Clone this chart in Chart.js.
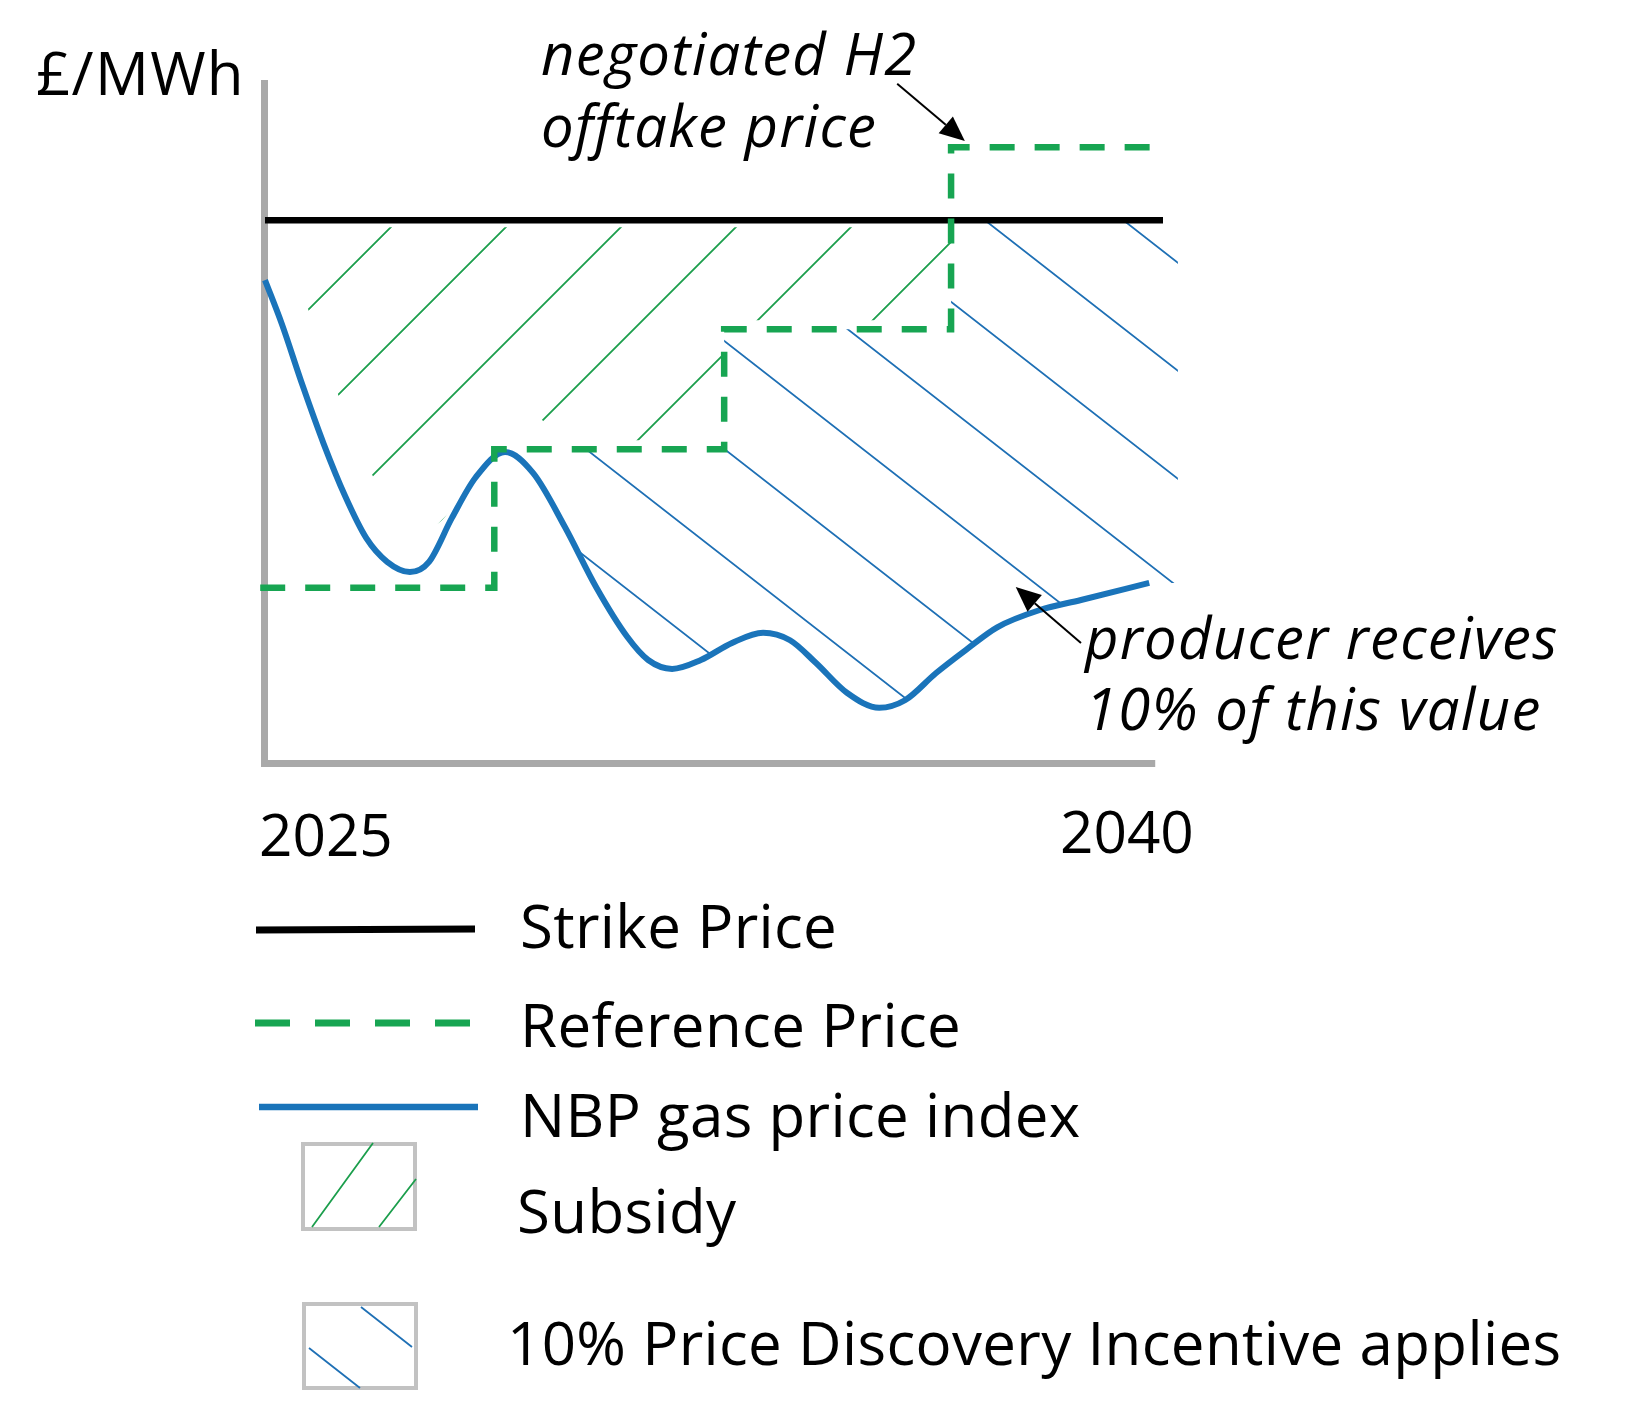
<!DOCTYPE html>
<html>
<head>
<meta charset="utf-8">
<script src="https://cdn.jsdelivr.net/npm/chart.js@4/dist/chart.umd.min.js"></script>
<style>
html,body{margin:0;padding:0;background:#ffffff;}
canvas{display:block;}
</style>
</head>
<body>
<canvas id="c" width="1638" height="1417"></canvas>
<script>
// ---------- data (schematic values) ----------
const tickLabels = ['2025', '2040'];
const yAxisTitle = '£/MWh';

const strikeX = [2025, 2040];
const strikeY = [79.6, 79.6];

const refX = [2024.92, 2028.83, 2032.67, 2036.46, 2039.98];
const refY = [25.7, 46.0, 63.6, 90.3, 90.3];

const nbpX = [2025.00, 2025.28, 2025.63, 2025.98, 2026.34, 2026.69, 2027.04, 2027.42,
              2027.74, 2028.12, 2028.52, 2029.01, 2029.48, 2030.01, 2030.53, 2031.05,
              2031.40, 2031.80, 2032.28, 2032.80, 2033.32, 2033.77, 2034.20, 2034.72,
              2035.26, 2035.69, 2036.21, 2036.71, 2037.23, 2037.93, 2038.63, 2039.77];
const nbpY = [70.8, 64.4, 55.3, 46.8, 39.1, 33.0, 29.5, 28.0,
              29.5, 35.9, 41.9, 45.6, 42.5, 34.6, 25.8, 18.5,
              15.1, 13.8, 15.1, 17.6, 19.1, 18.0, 14.7, 10.3,
              8.1, 9.2, 13.2, 16.6, 19.9, 22.4, 23.9, 26.4];

const legendLabels = ['Strike Price', 'Reference Price', 'NBP gas price index', 'Subsidy',
                      '10% Price Discovery Incentive applies'];
const noteH2 = ['negotiated H2', 'offtake price'];
const noteProducer = ['producer receives', '10% of this value'];
const arrowH2From = [2035.56, 99.6];
const arrowH2To = [2036.69, 91.2];
const arrowProdFrom = [2038.63, 17.6];
const arrowProdTo = [2037.54, 25.8];

// ---------- styles ----------
const BLACK = '#000000';
const GREEN = '#17a552';
const GREEN_HATCH = '#1b9e4c';
const BLUE = '#1a74ba';
const BLUE_HATCH = '#1f70b5';
const AXIS_GRAY = '#a9a9a9';
const BOX_GRAY = '#c2c2c2';
const FONT = '"Open Sans", "Noto Sans", "DejaVu Sans", sans-serif';
const hatchEndX = 2040.25;
const axisEndX = 2039.87;

const toPts = (xs, ys) => xs.map((x, i) => ({x: x, y: ys[i]}));

const hatchPlugin = {
  id: 'hatchAndAxes',
  beforeDatasetsDraw(chart) {
    const ctx = chart.ctx, a = chart.chartArea;
    const xs = chart.scales.x;
    const W = chart.width, H = chart.height;

    // axes
    ctx.save();
    ctx.strokeStyle = AXIS_GRAY;
    ctx.lineWidth = 7;
    ctx.lineCap = 'butt';
    ctx.beginPath();
    ctx.moveTo(a.left - 0.5, a.top - 1);
    ctx.lineTo(a.left - 0.5, a.bottom + 3.5);
    ctx.stroke();
    ctx.beginPath();
    ctx.moveTo(a.left - 4, a.bottom + 0.5);
    ctx.lineTo(xs.getPixelForValue(axisEndX), a.bottom + 0.5);
    ctx.stroke();
    ctx.restore();

    const S = chart.getDatasetMeta(0).dataset;
    const R = chart.getDatasetMeta(1).dataset;
    const N = chart.getDatasetMeta(2).dataset;
    [S, R, N].forEach(l => { if (l.updateControlPoints) l.updateControlPoints(a, 'x'); });
    const right = xs.getPixelForValue(hatchEndX);

    // trace a line's path, optionally offset (gap between hatching and the line)
    function trace(line, dx, dy) {
      ctx.beginPath();
      ctx.translate(dx, dy);
      line.path(ctx);
      ctx.translate(-dx, -dy);
      const p = line.points;
      return [{x: p[0].x + dx, y: p[0].y + dy}, {x: p[p.length - 1].x + dx, y: p[p.length - 1].y + dy}];
    }
    function clipBelow(line, dx, dy) {
      const [f, l] = trace(line, dx, dy);
      ctx.lineTo(right, l.y); ctx.lineTo(right, H); ctx.lineTo(f.x, H);
      ctx.closePath(); ctx.clip();
    }
    function clipAbove(line, dx, dy, wallLeft) {
      const [f, l] = trace(line, dx, dy);
      ctx.lineTo(right, l.y); ctx.lineTo(right, 0);
      if (wallLeft) { ctx.lineTo(f.x, 0); }
      else { ctx.lineTo(0, 0); ctx.lineTo(0, f.y); }
      ctx.closePath(); ctx.clip();
    }

    // subsidy hatch ("/")
    ctx.save();
    clipBelow(S, 0, 7); clipAbove(R, 0, -9, false); clipAbove(N, 16, -45, true);
    ctx.strokeStyle = GREEN_HATCH;
    ctx.lineWidth = 1.8;
    ctx.beginPath();
    const c0 = a.left + a.top + 42;
    for (let k = -30; k < 60; k++) {
      const c = c0 + k * 115;
      ctx.moveTo(c, 0); ctx.lineTo(c - H, H);
    }
    ctx.stroke();
    ctx.restore();

    // price discovery incentive hatch ("\")
    ctx.save();
    clipBelow(S, 0, 0); clipBelow(R, 0, 0); clipAbove(N, 0, 0, false);
    ctx.strokeStyle = BLUE_HATCH;
    ctx.lineWidth = 1.8;
    ctx.beginPath();
    const m = 0.78, b0 = a.top - m * a.left + 9.7;
    for (let k = -25; k < 25; k++) {
      const b = b0 + k * 108;
      ctx.moveTo(0, b); ctx.lineTo(W, m * W + b);
    }
    ctx.stroke();
    ctx.restore();
  },
  afterDraw(chart) {
    const ctx = chart.ctx;
    const xs = chart.scales.x, ys = chart.scales.y;
    ctx.save();
    ctx.fillStyle = BLACK;
    ctx.textBaseline = 'alphabetic';
    ctx.textAlign = 'left';

    // axis title and tick labels
    ctx.font = '60px ' + FONT;
    ctx.letterSpacing = '1.3px';
    ctx.fillText(yAxisTitle, 36, 95);
    ctx.letterSpacing = '0px';
    ctx.font = '58.5px ' + FONT;
    ctx.fillText(tickLabels[0], xs.getPixelForValue(2025) - 6, 856);
    ctx.fillText(tickLabels[1], xs.getPixelForValue(2040) - 103, 853);

    // annotations
    ctx.font = 'italic 58px ' + FONT;
    ctx.letterSpacing = '1.3px';
    ctx.fillText(noteH2[0], 541, 75);
    ctx.fillText(noteH2[1], 541, 147);
    ctx.fillText(noteProducer[0], 1085, 659);
    ctx.fillText(noteProducer[1], 1085, 730);
    ctx.letterSpacing = '0px';

    function arrow(from, to) {
      const x1 = xs.getPixelForValue(from[0]), y1 = ys.getPixelForValue(from[1]);
      const x2 = xs.getPixelForValue(to[0]), y2 = ys.getPixelForValue(to[1]);
      const ang = Math.atan2(y2 - y1, x2 - x1);
      const len = 25, hw = 11;
      const bx = x2 - len * Math.cos(ang), by = y2 - len * Math.sin(ang);
      ctx.strokeStyle = BLACK; ctx.lineWidth = 2;
      ctx.beginPath(); ctx.moveTo(x1, y1); ctx.lineTo(bx, by); ctx.stroke();
      ctx.beginPath();
      ctx.moveTo(x2, y2);
      ctx.lineTo(bx + hw * Math.sin(ang), by - hw * Math.cos(ang));
      ctx.lineTo(bx - hw * Math.sin(ang), by + hw * Math.cos(ang));
      ctx.closePath(); ctx.fill();
    }
    arrow(arrowH2From, arrowH2To);
    arrow(arrowProdFrom, arrowProdTo);

    // legend
    ctx.lineCap = 'butt';
    ctx.strokeStyle = BLACK; ctx.lineWidth = 7;
    ctx.beginPath(); ctx.moveTo(256, 930); ctx.lineTo(475, 929); ctx.stroke();
    ctx.strokeStyle = GREEN; ctx.lineWidth = 7; ctx.setLineDash([35, 25]);
    ctx.beginPath(); ctx.moveTo(255, 1023); ctx.lineTo(472, 1023); ctx.stroke();
    ctx.setLineDash([]);
    ctx.strokeStyle = BLUE; ctx.lineWidth = 6.5;
    ctx.beginPath(); ctx.moveTo(259, 1107); ctx.lineTo(478, 1107); ctx.stroke();

    ctx.strokeStyle = BOX_GRAY; ctx.lineWidth = 4;
    ctx.strokeRect(303, 1144, 112, 85);
    ctx.strokeRect(304, 1304, 112, 84);
    ctx.strokeStyle = GREEN_HATCH; ctx.lineWidth = 1.8;
    ctx.beginPath();
    ctx.moveTo(312, 1227); ctx.lineTo(373, 1143);
    ctx.moveTo(379, 1227); ctx.lineTo(416, 1179);
    ctx.stroke();
    ctx.strokeStyle = BLUE_HATCH;
    ctx.beginPath();
    ctx.moveTo(309, 1348); ctx.lineTo(360, 1388);
    ctx.moveTo(361, 1307); ctx.lineTo(412, 1347);
    ctx.stroke();

    ctx.fillStyle = BLACK;
    ctx.font = '60px ' + FONT;
    ctx.letterSpacing = '0.35px';
    ctx.fillText(legendLabels[0], 520, 948);
    ctx.fillText(legendLabels[1], 520, 1047);
    ctx.fillText(legendLabels[2], 520, 1137);
    ctx.fillText(legendLabels[3], 517, 1233);
    ctx.fillText(legendLabels[4], 507, 1365);
    ctx.letterSpacing = '0px';
    ctx.restore();
  }
};

new Chart(document.getElementById('c'), {
  type: 'line',
  data: {
    datasets: [
      {
        label: legendLabels[0],
        data: toPts(strikeX, strikeY),
        borderColor: BLACK,
        borderWidth: 6.5,
        pointRadius: 0,
        clip: false,
        order: 2
      },
      {
        label: legendLabels[1],
        data: toPts(refX, refY),
        borderColor: GREEN,
        borderWidth: 6.5,
        borderDash: [25, 20],
        stepped: true,
        pointRadius: 0,
        clip: false,
        order: 0
      },
      {
        label: legendLabels[2],
        data: toPts(nbpX, nbpY),
        borderColor: BLUE,
        borderWidth: 6,
        cubicInterpolationMode: 'monotone',
        pointRadius: 0,
        clip: false,
        order: 1
      }
    ]
  },
  options: {
    responsive: false,
    animation: false,
    devicePixelRatio: 1,
    layout: { padding: { left: 265, right: 475, top: 81, bottom: 654 } },
    scales: {
      x: { type: 'linear', min: 2025, max: 2040, display: false },
      y: { type: 'linear', min: 0, max: 100, display: false }
    },
    plugins: { legend: { display: false }, tooltip: { enabled: false } },
    events: []
  },
  plugins: [hatchPlugin]
});
</script>
</body>
</html>
